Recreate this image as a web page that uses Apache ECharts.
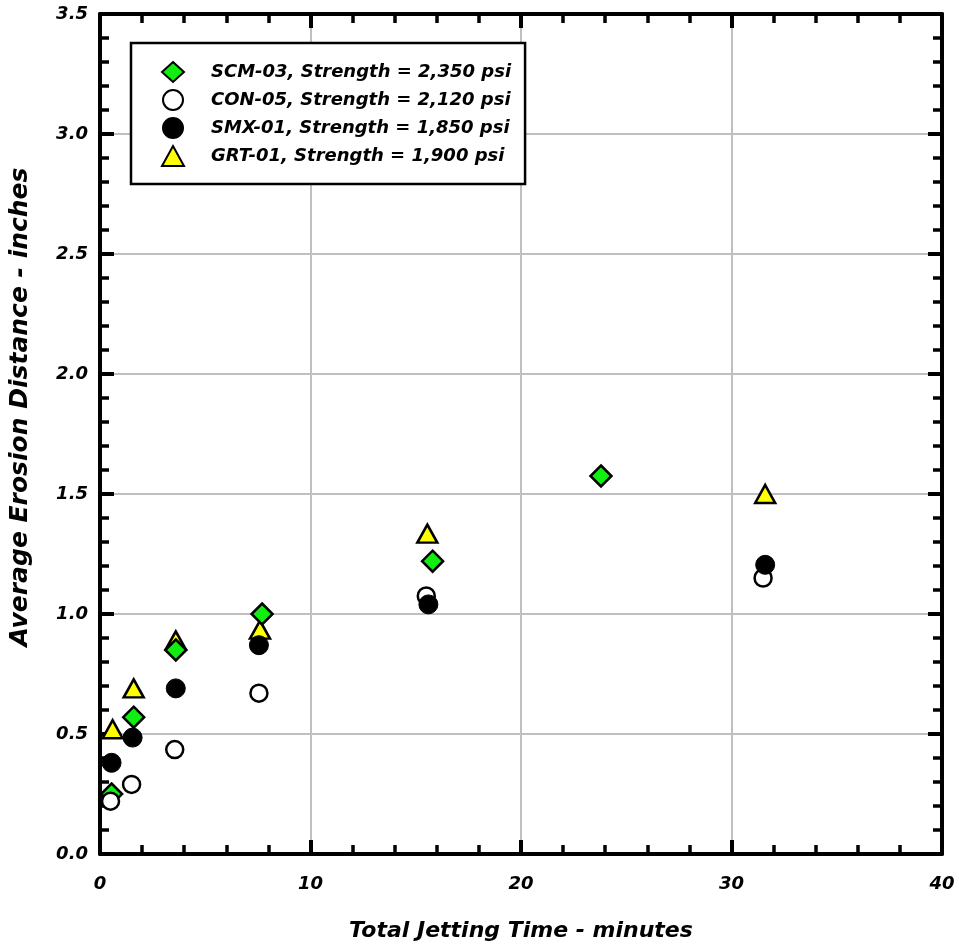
<!DOCTYPE html>
<html>
<head>
<meta charset="utf-8">
<script src="https://cdn.jsdelivr.net/npm/echarts@6/dist/echarts.min.js"></script>
<style>html,body{margin:0;padding:0;background:#fff;}#c{width:959px;height:947px;}</style>
</head>
<body>
<div id="c"></div>
<script>
// Data: [minutes, inches]
const scm03 = [[0.55, 0.25], [1.6, 0.57], [3.6, 0.85], [7.7, 1.0], [15.8, 1.22], [23.8, 1.575]];
const con05 = [[0.5, 0.22], [1.5, 0.29], [3.55, 0.435], [7.55, 0.67], [15.5, 1.075], [31.5, 1.15]];
const smx01 = [[0.55, 0.38], [1.55, 0.485], [3.6, 0.69], [7.55, 0.87], [15.6, 1.04], [31.6, 1.205]];
const grt01 = [[0.6, 0.52], [1.6, 0.69], [3.6, 0.89], [7.6, 0.935], [15.55, 1.335], [31.6, 1.50]];
const seriesNames = ['SCM-03, Strength = 2,350 psi', 'CON-05, Strength = 2,120 psi', 'SMX-01, Strength = 1,850 psi', 'GRT-01, Strength = 1,900 psi'];
const xTicks = [0, 10, 20, 30, 40];
const yTicks = ['0.0', '0.5', '1.0', '1.5', '2.0', '2.5', '3.0', '3.5'];

const FONT = '"DejaVu Sans", sans-serif';
const labelStyle = {fontFamily: FONT, fontWeight: 'bold', fontStyle: 'italic', fontSize: 18, color: '#000'};
const axisLine = {show: true, onZero: false, lineStyle: {color: '#000', width: 4}};
const axisTick = {show: true, inside: true, length: 14, lineStyle: {color: '#000', width: 4}};
const minorTick = {show: true, splitNumber: 5, length: 9, lineStyle: {color: '#000', width: 3.5}};
const splitLine = {show: true, lineStyle: {color: '#c0c0c0', width: 2}};

function xAx(pos, main) {
  return {
    type: 'value', position: pos, min: 0, max: 40, interval: 10,
    axisLine, axisTick, minorTick,
    splitLine: main ? splitLine : {show: false},
    axisLabel: main ? Object.assign({margin: 21, formatter: v => xTicks.includes(v) ? String(v) : ''}, labelStyle) : {show: false},
    name: main ? 'Total Jetting Time - minutes' : '',
    nameLocation: 'middle', nameGap: 66,
    nameTextStyle: {fontFamily: FONT, fontWeight: 'bold', fontStyle: 'italic', fontSize: 22, color: '#000'}
  };
}
function yAx(pos, main) {
  return {
    type: 'value', position: pos, min: 0, max: 3.5, interval: 0.5,
    axisLine, axisTick, minorTick,
    splitLine: main ? splitLine : {show: false},
    axisLabel: main ? Object.assign({margin: 12, formatter: v => yTicks[Math.round(v / 0.5)]}, labelStyle) : {show: false},
    name: main ? 'Average Erosion Distance - inches' : '',
    nameLocation: 'middle', nameGap: 67,
    nameTextStyle: {fontFamily: FONT, fontWeight: 'bold', fontStyle: 'italic', fontSize: 25, color: '#000', padding: [0, 0, 0, 54]}
  };
}

const chart = echarts.init(document.getElementById('c'), null, {renderer: 'canvas'});
chart.setOption({
  animation: false,
  backgroundColor: '#fff',
  grid: {left: 100, right: 17, top: 14, bottom: 86},
  xAxis: [xAx('bottom', true), xAx('top', false)],
  yAxis: [yAx('left', true), yAx('right', false)],
  legend: {
    show: true, orient: 'vertical', left: 131, top: 43,
    data: seriesNames,
    itemWidth: 22, itemHeight: 20, itemGap: 6,
    padding: [18, 14, 17, 30],
    borderColor: '#000', borderWidth: 2.5, backgroundColor: '#fff',
    textStyle: {fontFamily: FONT, fontWeight: 'bold', fontStyle: 'italic', fontSize: 18, lineHeight: 20, color: '#000', padding: [0, 0, 0, 22]}
  },
  series: [
    {name: seriesNames[3], type: 'scatter', data: grt01, symbol: 'triangle', symbolSize: [20, 18],
     itemStyle: {color: '#ffff00', borderColor: '#000', borderWidth: 2.5, opacity: 1}},
    {name: seriesNames[0], type: 'scatter', data: scm03, symbol: 'diamond', symbolSize: [21, 21],
     itemStyle: {color: '#11ee11', borderColor: '#000', borderWidth: 2.5, opacity: 1}},
    {name: seriesNames[1], type: 'scatter', data: con05, symbol: 'circle', symbolSize: 17,
     itemStyle: {color: '#fff', borderColor: '#000', borderWidth: 2.5, opacity: 1}},
    {name: seriesNames[2], type: 'scatter', data: smx01, symbol: 'circle', symbolSize: 19,
     itemStyle: {color: '#000', borderColor: '#000', borderWidth: 1, opacity: 1}}
  ]
});
</script>
</body>
</html>
